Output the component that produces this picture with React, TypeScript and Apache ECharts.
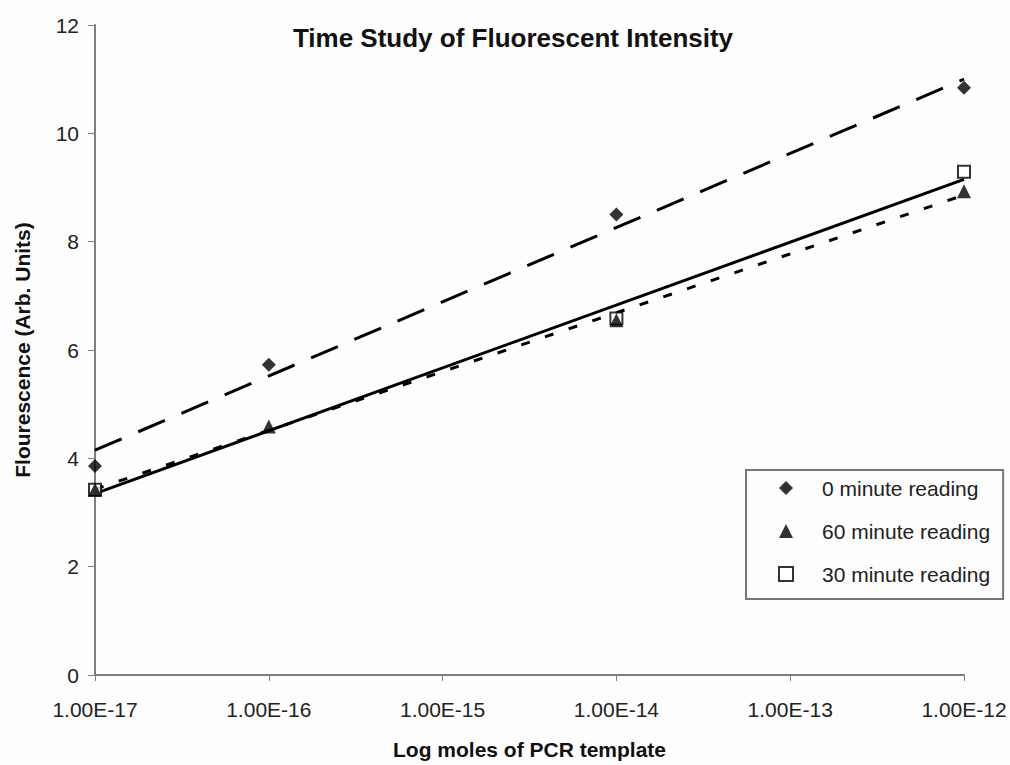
import React, { useEffect, useRef } from "react";
import * as echarts from "echarts";

const xExponents = [-17, -16, -14, -12];
const zeroMinute = [3.86, 5.73, 8.5, 10.84];
const sixtyMinute = [3.42, 4.59, 6.55, 8.93];
const thirtyMinute: (number | null)[] = [3.42, null, 6.58, 9.29];

const trendX = [-17, -12];
const zeroTrend = [4.15, 11.0];
const thirtyTrend = [3.35, 9.15];
const sixtyTrend = [3.43, 8.86];

const FONT = "'Liberation Sans', Arial, sans-serif";

const pair = (xs: number[], ys: (number | null)[]) =>
  xs.map((x, i) => [x, ys[i]]).filter((p) => p[1] !== null);

export default function App() {
  const ref = useRef<HTMLDivElement>(null);
  useEffect(() => {
    if (!ref.current) return;
    const chart = echarts.init(ref.current, null, { renderer: "svg" });
    chart.setOption({
      animation: false,
      backgroundColor: "#fdfdfd",
      title: {
        text: "Time Study of Fluorescent Intensity",
        left: 508,
        textAlign: "center",
        top: 20,
        textStyle: { fontFamily: FONT, fontSize: 26, fontWeight: "bold", color: "#111" },
      },
      grid: { left: 95, right: 46, top: 25, bottom: 84 },
      legend: {
        orient: "vertical",
        left: 746,
        top: 470,
        data: ["0 minute reading", "60 minute reading", "30 minute reading"],
        itemWidth: 14,
        itemHeight: 14,
        itemGap: 21,
        padding: [7, 13, 14, 32],
        borderColor: "#777",
        borderWidth: 2,
        backgroundColor: "#fdfdfd",
        textStyle: {
          fontFamily: FONT,
          fontSize: 21,
          color: "#222",
          lineHeight: 22,
          padding: [0, 0, 0, 24],
        },
      },
      xAxis: {
        type: "value",
        min: -17,
        max: -12,
        interval: 1,
        name: "Log moles of PCR template",
        nameLocation: "middle",
        nameGap: 64,
        nameTextStyle: { fontFamily: FONT, fontSize: 21, fontWeight: "bold", color: "#111" },
        axisLine: { show: true, lineStyle: { color: "#7f7f7f", width: 2 } },
        axisTick: { show: true, length: 6, lineStyle: { color: "#7f7f7f", width: 1 } },
        axisLabel: {
          fontFamily: FONT,
          fontSize: 21,
          color: "#222",
          margin: 24,
          formatter: (v: number) => "1.00E" + v,
        },
        splitLine: { show: false },
      },
      yAxis: {
        type: "value",
        min: 0,
        max: 12,
        interval: 2,
        name: "Flourescence (Arb. Units)",
        nameLocation: "middle",
        nameGap: 62,
        nameTextStyle: { fontFamily: FONT, fontSize: 21, fontWeight: "bold", color: "#111" },
        axisLine: { show: true, lineStyle: { color: "#7f7f7f", width: 2 } },
        axisTick: { show: true, length: 7, lineStyle: { color: "#7f7f7f", width: 1 } },
        axisLabel: { fontFamily: FONT, fontSize: 21, color: "#222", margin: 16 },
        splitLine: { show: false },
      },
      series: [
        {
          type: "line",
          data: pair(trendX, zeroTrend),
          symbol: "none",
          lineStyle: { color: "#000", width: 3, type: [29, 18] },
          z: 1,
        },
        {
          type: "line",
          data: pair(trendX, thirtyTrend),
          symbol: "none",
          lineStyle: { color: "#000", width: 3, type: "solid" },
          z: 1,
        },
        {
          type: "line",
          data: pair(trendX, sixtyTrend),
          symbol: "none",
          lineStyle: { color: "#000", width: 3, type: [9, 16] },
          z: 1,
        },
        {
          name: "0 minute reading",
          type: "scatter",
          data: pair(xExponents, zeroMinute),
          symbol: "diamond",
          symbolSize: 14,
          itemStyle: { color: "#000" },
          z: 3,
        },
        {
          name: "30 minute reading",
          type: "scatter",
          data: pair(xExponents, thirtyMinute),
          symbol: "rect",
          symbolSize: 12,
          itemStyle: { color: "#fff", borderColor: "#000", borderWidth: 2 },
          z: 3,
        },
        {
          name: "60 minute reading",
          type: "scatter",
          data: pair(xExponents, sixtyMinute),
          symbol: "triangle",
          symbolSize: 14,
          itemStyle: { color: "#000" },
          z: 4,
        },
      ],
    });
    return () => chart.dispose();
  }, []);
  return (
    <div
      ref={ref}
      style={{ position: "absolute", left: 0, top: 0, width: 1010, height: 765 }}
    />
  );
}
